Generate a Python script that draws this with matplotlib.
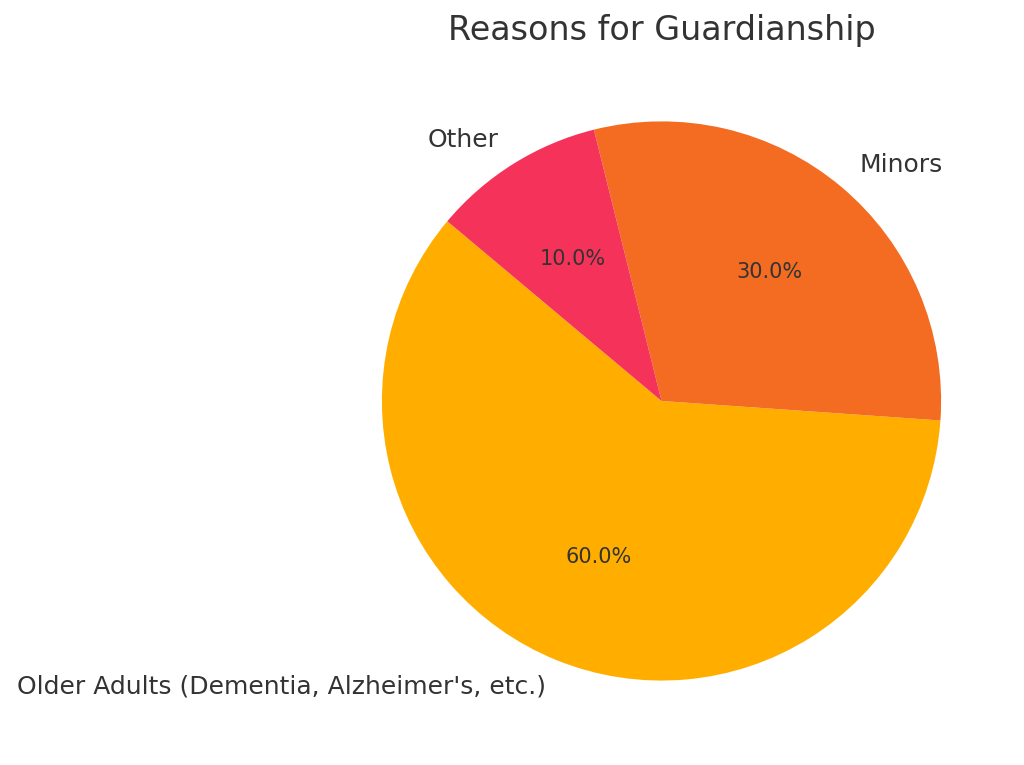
import matplotlib.pyplot as plt

labels = ["Older Adults (Dementia, Alzheimer's, etc.)", "Minors", "Other"]
shares = [60, 30, 10]
colors = ["#FFAE00", "#F46B22", "#F5325A"]

plt.rcParams['font.family'] = ['DejaVu Sans']
plt.rcParams['text.color'] = '#333333'

fig = plt.figure(figsize=(10.24, 7.65), dpi=100)
ax = fig.add_axes([0.3047, 0.019, 0.6826, 0.9137])

wedges, texts, autotexts = ax.pie(shares, labels=labels, colors=colors,
                                  autopct='%1.1f%%', startangle=140,
                                  textprops={'fontsize': 18, 'color': '#333333'})
for t in autotexts:
    t.set_fontsize(15)
ax.set_title("Reasons for Guardianship", fontsize=24, color='#333333', pad=8)
ax.set_aspect('equal')
ax.set_xlim(-1.25, 1.25)
ax.set_ylim(-1.25, 1.25)

fig.savefig("out.png", dpi=100)
